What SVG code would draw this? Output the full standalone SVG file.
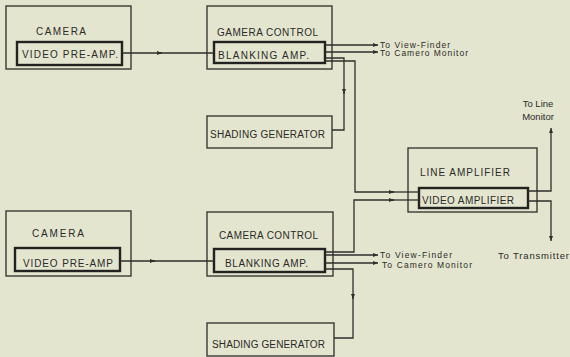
<svg xmlns="http://www.w3.org/2000/svg" width="570" height="357" viewBox="0 0 570 357">
<style>
.bg{fill:#e4e5cf}
.outer{fill:none;stroke:#3a3a36;stroke-width:1.4}
.inner{fill:none;stroke:#222220;stroke-width:2.4}
.lbl{font-family:"Liberation Sans",Arial,sans-serif;font-size:10px;fill:#2a2a28}
.sm{font-family:"Liberation Sans",Arial,sans-serif;font-size:9.5px;fill:#2a2a28}
.xs{font-family:"Liberation Sans",Arial,sans-serif;font-size:8.5px;fill:#2a2a28}
.ln{fill:none;stroke:#2e2e2c;stroke-width:1.3}
</style>
<defs>
<marker id="arr" viewBox="0 0 10 10" refX="10" refY="5" markerWidth="6" markerHeight="5" markerUnits="userSpaceOnUse" orient="auto">
<path d="M0,1 L10,5 L0,9 Z" fill="#2e2e2c"/>
</marker>
</defs>
<rect class="bg" x="0" y="0" width="570" height="357"/>

<g id="camera1">
<rect class="outer" x="6" y="6" width="125" height="63"/>
<text class="lbl" x="61" y="35" text-anchor="middle" textLength="50" lengthAdjust="spacing">CAMERA</text>
<rect class="inner" x="17" y="42" width="105" height="23"/>
<text class="lbl" x="22" y="58" textLength="96" lengthAdjust="spacing">VIDEO PRE-AMP.</text>
</g>

<g id="cc1">
<rect class="outer" x="207" y="6" width="125" height="63"/>
<text class="lbl" x="217" y="36" textLength="101" lengthAdjust="spacing">GAMERA CONTROL</text>
<rect class="inner" x="214" y="42" width="111" height="21"/>
<text class="lbl" x="218" y="59" textLength="91" lengthAdjust="spacing">BLANKING AMP.</text>
</g>

<g id="shading1">
<rect class="outer" x="207" y="116" width="125" height="32"/>
<text class="lbl" x="210" y="138" textLength="115" lengthAdjust="spacing">SHADING GENERATOR</text>
</g>

<g id="lineamp">
<rect class="outer" x="408" y="148" width="129" height="64"/>
<text class="lbl" x="420" y="176" textLength="90" lengthAdjust="spacing">LINE AMPLIFIER</text>
<rect class="inner" x="419" y="188" width="109" height="20"/>
<text class="lbl" x="422" y="204" textLength="92" lengthAdjust="spacing">VIDEO AMPLIFIER</text>
</g>

<g id="camera2">
<rect class="outer" x="6" y="211" width="125" height="65"/>
<text class="lbl" x="58" y="237" text-anchor="middle" textLength="52" lengthAdjust="spacing">CAMERA</text>
<rect class="inner" x="15" y="248" width="105" height="23"/>
<text class="lbl" x="23" y="267" textLength="90" lengthAdjust="spacing">VIDEO PRE-AMP</text>
</g>

<g id="cc2">
<rect class="outer" x="207" y="212" width="126" height="64"/>
<text class="lbl" x="219" y="239" textLength="99" lengthAdjust="spacing">CAMERA CONTROL</text>
<rect class="inner" x="214" y="249" width="111" height="23"/>
<text class="lbl" x="225" y="267" textLength="83" lengthAdjust="spacing">BLANKING AMP.</text>
</g>

<g id="shading2">
<rect class="outer" x="207" y="323" width="127" height="33"/>
<text class="lbl" x="212" y="348" textLength="113" lengthAdjust="spacing">SHADING GENERATOR</text>
</g>

<g id="connectors">
<path class="ln" d="M122,53 H162" marker-end="url(#arr)"/>
<path class="ln" d="M160,53 H214"/>
<path class="ln" d="M325,45 H378" marker-end="url(#arr)"/>
<path class="ln" d="M325,52 H378" marker-end="url(#arr)"/>
<path class="ln" d="M325,58 H344 V94" marker-end="url(#arr)"/>
<path class="ln" d="M344,92 V130 H332"/>
<path class="ln" d="M325,61 H355 V192 H394" marker-end="url(#arr)"/>
<path class="ln" d="M392,192 H419"/>
<path class="ln" d="M528,191 H551 V128" marker-end="url(#arr)"/>
<path class="ln" d="M528,201 H551 V241" marker-end="url(#arr)"/>
<path class="ln" d="M120,261 H155" marker-end="url(#arr)"/>
<path class="ln" d="M153,261 H214"/>
<path class="ln" d="M325,252 H354 V200 H394" marker-end="url(#arr)"/>
<path class="ln" d="M392,200 H419"/>
<path class="ln" d="M325,255 H378" marker-end="url(#arr)"/>
<path class="ln" d="M325,263 H378" marker-end="url(#arr)"/>
<path class="ln" d="M325,269 H353 V299" marker-end="url(#arr)"/>
<path class="ln" d="M353,297 V338 H334"/>
</g>

<g id="labels">
<text class="xs" x="380" y="47.5" textLength="70" lengthAdjust="spacing">To View-Finder</text>
<text class="xs" x="380" y="56" textLength="88" lengthAdjust="spacing">To Camero Monitor</text>
<text class="sm" x="538" y="107" text-anchor="middle">To Line</text>
<text class="sm" x="538" y="120" text-anchor="middle">Monitor</text>
<text class="sm" x="498" y="259" textLength="71" lengthAdjust="spacing">To Transmitter</text>
<text class="xs" x="380" y="258" textLength="72" lengthAdjust="spacing">To View-Finder</text>
<text class="xs" x="382" y="268" textLength="90" lengthAdjust="spacing">To Camero Monitor</text>
</g>
</svg>
